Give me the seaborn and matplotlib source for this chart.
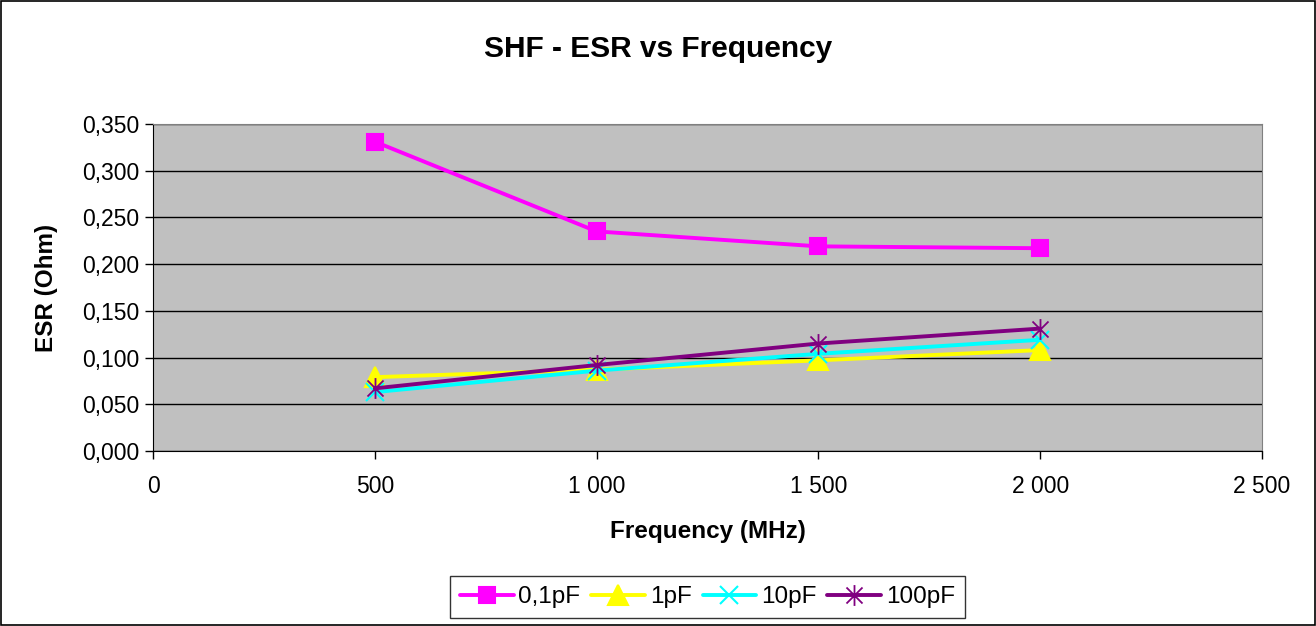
import matplotlib.pyplot as plt
import matplotlib.ticker as mticker
from matplotlib.path import Path
import seaborn as sns
import pandas as pd

frequency = [500, 1000, 1500, 2000]
esr_01pf = [0.331, 0.235, 0.219, 0.217]
esr_1pf = [0.079, 0.087, 0.097, 0.108]
esr_10pf = [0.063, 0.086, 0.104, 0.119]
esr_100pf = [0.067, 0.092, 0.115, 0.131]
series = ["0,1pF", "1pF", "10pF", "100pF"]

rows = []
for name, vals in zip(series, [esr_01pf, esr_1pf, esr_10pf, esr_100pf]):
  for f, v in zip(frequency, vals):
    rows.append({"freq": f, "esr": v, "cap": name})
df = pd.DataFrame(rows)

sns.set_style("white")
plt.rcParams['font.family'] = ['Liberation Sans', 'DejaVu Sans']
plt.rcParams['text.color'] = 'black'
plt.rcParams['axes.labelcolor'] = 'black'

# excel style asterisk: x plus a vertical bar
star = Path([(-1, -1), (1, 1), (-1, 1), (1, -1), (0, -1.3), (0, 1.3)],
            [Path.MOVETO, Path.LINETO, Path.MOVETO, Path.LINETO, Path.MOVETO, Path.LINETO])

colors = {"0,1pF": "#FF00FF", "1pF": "#FFFF00", "10pF": "#00FFFF", "100pF": "#800080"}
markers = {"0,1pF": "s", "1pF": "^", "10pF": "x", "100pF": star}
msizes = {"0,1pF": 12, "1pF": 15, "10pF": 13, "100pF": 15}
medges = {"0,1pF": 1.5, "1pF": 1.5, "10pF": 1.5, "100pF": 1.3}

fig = plt.figure(figsize=(13.16, 6.26), dpi=100)
fig.patches.append(plt.Rectangle((0.001, 0.002), 0.998, 0.996, transform=fig.transFigure,
                                 fill=False, edgecolor="black", linewidth=1.2))
ax = fig.add_axes([0.1163, 0.2796, 0.8427, 0.5224])
ax.set_facecolor("#C0C0C0")

for name in series:
  sub = df[df["cap"] == name]
  sns.lineplot(data=sub, x="freq", y="esr", color=colors[name], marker=markers[name],
               linewidth=2.8, markersize=msizes[name], markeredgewidth=medges[name],
               markeredgecolor=colors[name], ax=ax, label=name)

ax.set_xlim(0, 2500)
ax.set_ylim(0, 0.35)
ax.set_xticks([0, 500, 1000, 1500, 2000, 2500])
ax.set_yticks([i * 0.05 for i in range(8)])
ax.xaxis.set_major_formatter(mticker.FuncFormatter(lambda v, p: "{:,.0f}".format(v).replace(",", " ")))
ax.yaxis.set_major_formatter(mticker.FuncFormatter(lambda v, p: "{:.3f}".format(v).replace(".", ",")))
ax.grid(axis="y", color="black", linewidth=1.0)
ax.set_axisbelow(True)
for s in ["top", "right"]:
  ax.spines[s].set_color("#808080")
for s in ["left", "bottom"]:
  ax.spines[s].set_color("black")
ax.tick_params(axis="both", direction="out", length=6, width=1, colors="black",
               labelsize=16.5, left=True, bottom=True)
ax.tick_params(axis="x", pad=11)
ax.tick_params(axis="y", pad=4)

ax.set_xlabel("Frequency (MHz)", fontsize=17.5, fontweight="bold", labelpad=16)
ax.set_ylabel("ESR (Ohm)", fontsize=17.5, fontweight="bold", labelpad=17)
fig.text(0.5, 0.922, "SHF - ESR vs Frequency", ha="center", va="center",
         fontsize=21.5, fontweight="bold")

handles, labels = ax.get_legend_handles_labels()
ax.get_legend().remove()
fig.legend(handles, labels, loc="center", bbox_to_anchor=(0.5376, 0.0463), ncol=4,
           frameon=True, fancybox=False, edgecolor="black", fontsize=17.5,
           handlelength=2.2, handletextpad=0.2, columnspacing=0.45, borderpad=0.4)

plt.savefig("out.png", dpi=100)
plt.close()
